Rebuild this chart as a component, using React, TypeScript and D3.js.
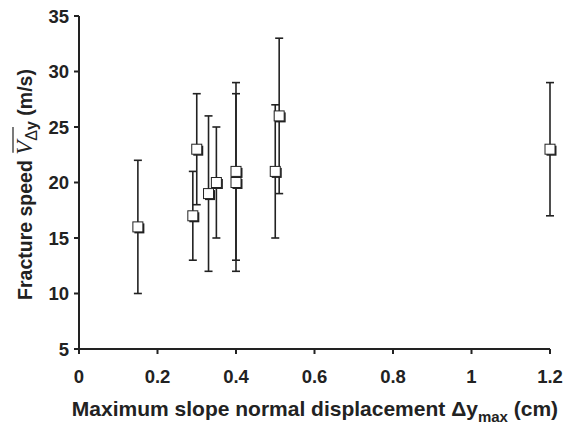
import React, { useLayoutEffect, useRef, useState } from 'react';
import * as d3 from 'd3';

// displacement (cm), mean speed (m/s), error bar low/high
const dispCm = [0.15, 0.29, 0.3, 0.33, 0.35, 0.4, 0.4, 0.5, 0.51, 1.2];
const speed = [16, 17, 23, 19, 20, 21, 20, 21, 26, 23];
const errLow = [10, 13, 18, 12, 15, 13, 12, 15, 19, 17];
const errHigh = [22, 21, 28, 26, 25, 29, 28, 27, 33, 29];
const xTicks = [0, 0.2, 0.4, 0.6, 0.8, 1, 1.2];
const yTicks = [5, 10, 15, 20, 25, 30, 35];

const width = 574;
const height = 424;
const margin = { top: 16, right: 24, bottom: 75, left: 79 };

export default function App() {
  const vRef = useRef<SVGTSpanElement>(null);
  const dRef = useRef<SVGTSpanElement>(null);
  const [bar, setBar] = useState<[number, number] | null>(null);

  const x = d3.scaleLinear().domain([0, 1.2]).range([margin.left, width - margin.right]);
  const y = d3.scaleLinear().domain([5, 35]).range([height - margin.bottom, margin.top]);
  const font = '"Liberation Sans", Arial, sans-serif';
  const ink = '#222';
  const y0 = y(5);

  useLayoutEffect(() => {
    if (!vRef.current || !dRef.current) return;
    const a = vRef.current.getStartPositionOfChar(0).x;
    const b = dRef.current.getEndPositionOfChar(0).x;
    setBar([a + 2, b + 3]);
  }, []);

  return (
    <svg width={width} height={height} style={{ position: 'absolute', left: 0, top: 0 }}>
      <rect width={width} height={height} fill="#fff" />
      {/* axes */}
      <line x1={x(0)} x2={x(1.2)} y1={y0} y2={y0} stroke={ink} strokeWidth={2} />
      <line x1={x(0)} x2={x(0)} y1={y(35)} y2={y0} stroke={ink} strokeWidth={2} />
      {xTicks.map(t => (
        <g key={'x' + t}>
          <line x1={x(t)} x2={x(t)} y1={y0} y2={y0 + 5} stroke={ink} strokeWidth={2} />
          <text x={x(t)} y={y0 + 34} textAnchor="middle" fontFamily={font} fontWeight="bold" fontSize={18.5} fill={ink}>
            {t}
          </text>
        </g>
      ))}
      {yTicks.map(t => (
        <g key={'y' + t}>
          <line x1={x(0) - 5} x2={x(0)} y1={y(t)} y2={y(t)} stroke={ink} strokeWidth={2} />
          <text x={x(0) - 10} y={y(t) + 6.5} textAnchor="end" fontFamily={font} fontWeight="bold" fontSize={18.5} fill={ink}>
            {t}
          </text>
        </g>
      ))}
      {/* error bars */}
      {dispCm.map((d, i) => (
        <g key={'e' + i} stroke={ink} strokeWidth={1.6}>
          <line x1={x(d)} x2={x(d)} y1={y(errLow[i])} y2={y(errHigh[i])} />
          <line x1={x(d) - 4} x2={x(d) + 4} y1={y(errLow[i])} y2={y(errLow[i])} />
          <line x1={x(d) - 4} x2={x(d) + 4} y1={y(errHigh[i])} y2={y(errHigh[i])} />
        </g>
      ))}
      {/* markers */}
      {dispCm.map((d, i) => (
        <g key={'m' + i}>
          <rect x={x(d) - 3.5} y={y(speed[i]) - 3.5} width={10} height={10} fill={ink} />
          <rect x={x(d) - 5} y={y(speed[i]) - 5} width={10} height={10} fill="#fff" stroke={ink} strokeWidth={1} />
        </g>
      ))}
      {/* x label */}
      <text x={315} y={416} textAnchor="middle" fontFamily={font} fontWeight="bold" fontSize={21} fill={ink}>
        Maximum slope normal displacement Δy
        <tspan dy={6} fontSize={15}>max</tspan>
        <tspan dy={-6}> (cm)</tspan>
      </text>
      {/* y label */}
      <g transform={`translate(32,${(y(35) + y0) / 2 + 2}) rotate(-90)`}>
        <text textAnchor="middle" fontFamily={font} fontWeight="bold" fontSize={19.5} fill={ink}>
          Fracture speed{' '}
          <tspan ref={vRef} fontFamily='"Liberation Serif", serif' fontStyle="italic" fontWeight="normal" fontSize={23}>V</tspan>
          <tspan ref={dRef} dy={5} fontSize={16} fontWeight="normal">Δ</tspan>
          <tspan fontSize={16}>y</tspan>
          <tspan dy={-5}> (m/s)</tspan>
        </text>
        {bar && <line x1={bar[0]} x2={bar[1]} y1={-19} y2={-19} stroke={ink} strokeWidth={1.2} />}
      </g>
    </svg>
  );
}
